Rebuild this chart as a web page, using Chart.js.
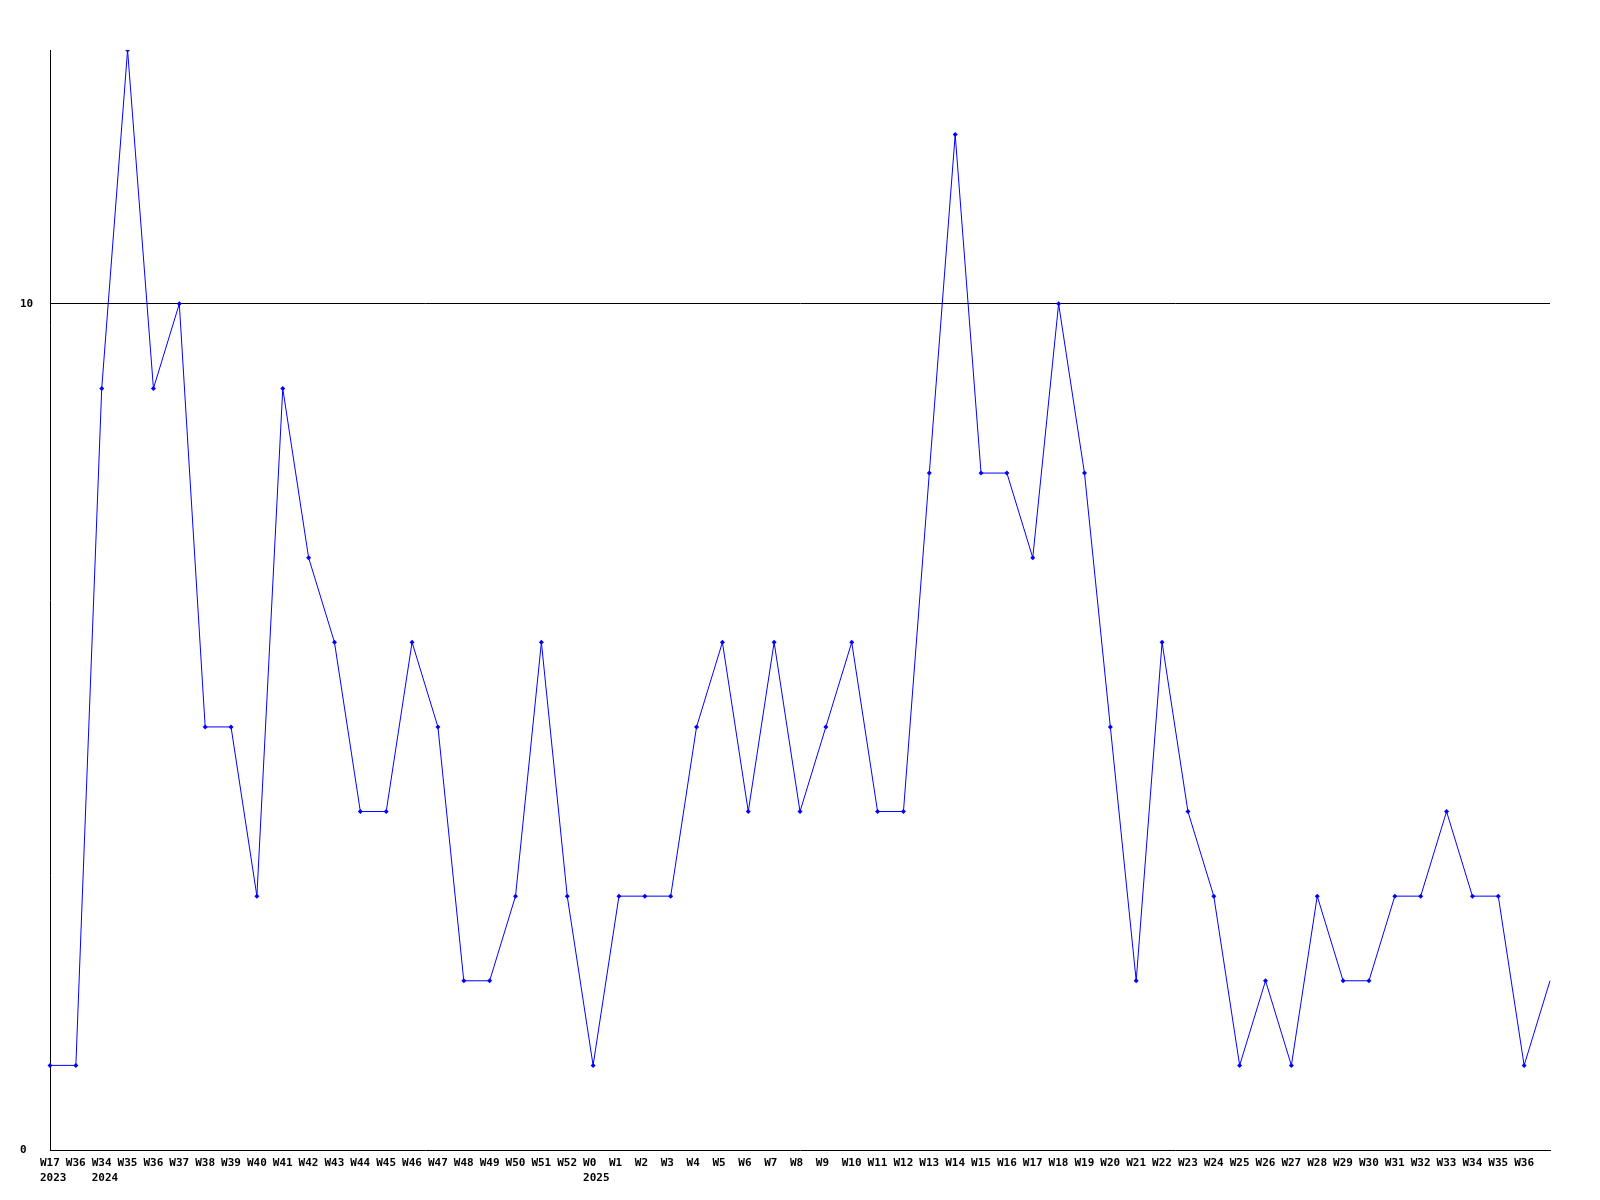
<!DOCTYPE html>
<html>
<head>
<meta charset="utf-8">
<script src="https://cdn.jsdelivr.net/npm/chart.js@4/dist/chart.umd.min.js"></script>
<style>
  body { margin: 0; background: #fff; }
  canvas { display: block; }
</style>
</head>
<body>
<canvas id="myChart" width="1600" height="1200"></canvas>
<script>
 // weeks on the x axis, year shown under the first week of each year
 var weeks = ["W17", "W36", "W34", "W35", "W36", "W37", "W38", "W39", "W40", "W41",
     "W42", "W43", "W44", "W45", "W46", "W47", "W48", "W49", "W50", "W51", "W52",
     "W0", "W1", "W2", "W3", "W4", "W5", "W6", "W7", "W8", "W9", "W10", "W11", "W12",
     "W13", "W14", "W15", "W16", "W17", "W18", "W19", "W20", "W21", "W22", "W23",
     "W24", "W25", "W26", "W27", "W28", "W29", "W30", "W31", "W32", "W33", "W34",
     "W35", "W36", ""];
 var years = {0: "2023", 2: "2024", 21: "2025"};
 var counts = [1, 1, 9, 13, 9, 10, 5, 5, 3, 9,
     7, 6, 4, 4, 6, 5, 2, 2, 3, 6, 3,
     1, 3, 3, 3, 5, 6, 4, 6, 4, 5, 6, 4, 4,
     8, 12, 8, 8, 7, 10, 8, 5, 2, 6, 4,
     3, 1, 2, 1, 3, 2, 2, 3, 3, 4, 3,
     3, 1, 2];
 var yTicks = [0, 10];

 var xLabels = weeks.map(function (w, i) {
     return years[i] ? [w, years[i]] : w;
 });
 var pointSizes = counts.map(function (v, i) {
     return i === counts.length - 1 ? 0 : 2.5;
 });

 var tickFont = { family: "DejaVu Sans Mono", size: 11, weight: "bold", lineHeight: 1.35 };

 new Chart("myChart", {
     type: "line",
     data: {
         labels: xLabels,
         datasets: [{
             data: counts,
             borderColor: "#0000ff",
             backgroundColor: "#0000ff",
             borderWidth: 1,
             pointStyle: "rectRot",
             pointRadius: pointSizes,
             pointBorderWidth: 0,
             tension: 0,
             fill: false
         }]
     },
     options: {
         responsive: false,
         animation: false,
         layout: { padding: { top: 50, right: 50, left: 20, bottom: 0 } },
         plugins: {
             legend: { display: false },
             tooltip: { enabled: false }
         },
         scales: {
             x: {
                 offset: false,
                 grid: { display: false },
                 border: { display: true, color: "#000", width: 1 },
                 ticks: {
                     autoSkip: false,
                     maxRotation: 0,
                     minRotation: 0,
                     align: "start",
                     labelOffset: -10,
                     padding: -2,
                     color: "#000",
                     font: tickFont
                 },
                 afterFit: function (scale) { scale.height = 50; }
             },
             y: {
                 min: 0,
                 max: 13,
                 afterBuildTicks: function (scale) {
                     scale.ticks = yTicks.map(function (v) { return { value: v }; });
                 },
                 grid: {
                     drawTicks: false,
                     color: function (ctx) {
                         return ctx.tick && ctx.tick.value === 10 ? "#000" : "rgba(0,0,0,0)";
                     },
                     lineWidth: 1
                 },
                 border: { display: true, color: "#000", width: 1 },
                 ticks: {
                     crossAlign: "far",
                     padding: 4,
                     color: "#000",
                     font: tickFont
                 },
                 afterFit: function (scale) { scale.width = 30; }
             }
         }
     }
 });
</script>
</body>
</html>
